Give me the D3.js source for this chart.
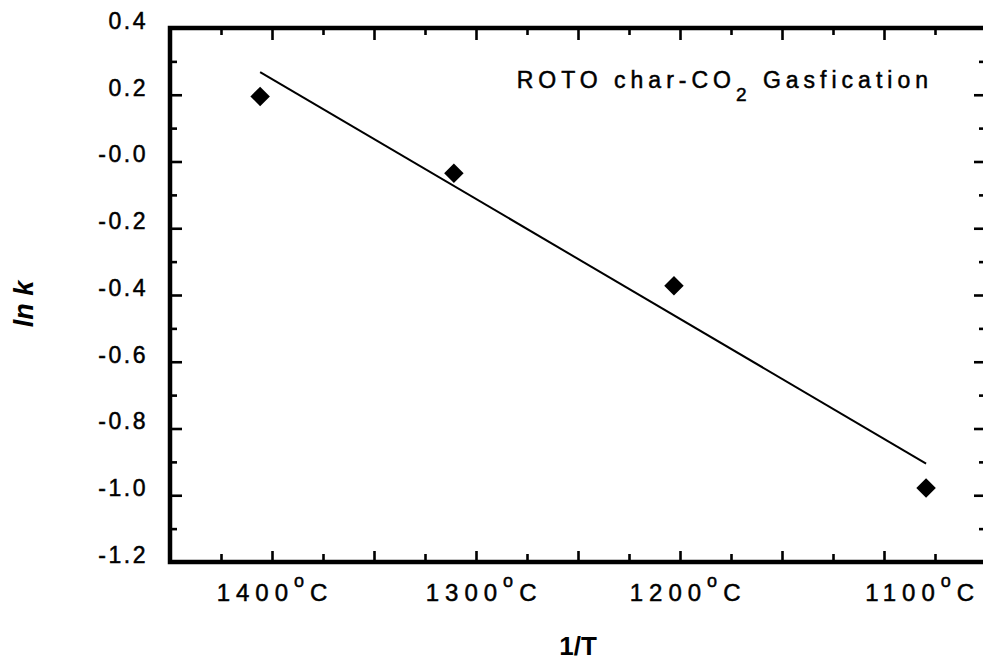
<!DOCTYPE html>
<html>
<head>
<meta charset="utf-8">
<script src="https://cdn.jsdelivr.net/npm/d3@7"></script>
<style>
  body { margin: 0; background: #fff; }
  svg { display: block; }
  text { font-family: "Liberation Sans", Arial, Helvetica, sans-serif; fill: #000; }
  .heavy { stroke: #000; stroke-width: 0.5px; }
</style>
</head>
<body>
<svg width="983" height="662"></svg>
<script>
// measured points
var tempC = [1400, 1300, 1200, 1100];
var lnK = [0.195, -0.035, -0.372, -0.978];

// fitted line (ends)
var fitTempC = [1400, 1100];
var fitLnK = [0.268, -0.905];

var yMajor = [0.4, 0.2, 0, -0.2, -0.4, -0.6, -0.8, -1.0, -1.2];
var yLabels = ["0.4", "0.2", "-0.0", "-0.2", "-0.4", "-0.6", "-0.8", "-1.0", "-1.2"];
var yMinor = [0.3, 0.1, -0.1, -0.3, -0.5, -0.7, -0.9, -1.1];

var xMajor = [0.00060, 0.00062, 0.00064, 0.00066, 0.00068, 0.00070, 0.00072];
var xMinor = [0.00059, 0.00061, 0.00063, 0.00065, 0.00067, 0.00069, 0.00071, 0.00073];

// where the temperature labels sit on the 1/T axis
var xLabelAt = [0.000600, 0.000641, 0.000681, 0.000727];
var xLabels = ["1400", "1300", "1200", "1100"];

document.addEventListener("DOMContentLoaded", function () {

  init();

  function init() {
    var left = 170, right = 986, top = 28, bottom = 562;

    var invT = function (c) {
      return 1 / (c + 273.15);
    };

    var x = d3.scaleLinear().domain([0.00058, 0.00074]).range([left, right]);
    var y = d3.scaleLinear().domain([-1.2, 0.4]).range([bottom, top]);

    var svg = d3.select("svg");

    function styleTicks(g) {
      g.select(".domain").remove();
      g.selectAll(".tick line").attr("stroke", "#000").attr("stroke-width", 2.6);
    }

    // left axis
    svg.append("g")
      .attr("transform", "translate(" + left + ",0)")
      .call(d3.axisLeft(y).tickValues(yMajor).tickSizeInner(-12).tickSizeOuter(0)
        .tickPadding(22).tickFormat(function (d, i) { return yLabels[i]; }))
      .call(styleTicks)
      .selectAll("text")
      .attr("class", "heavy")
      .attr("dy", "0.02em")
      .style("font-size", "23px")
      .style("letter-spacing", "2.5px");

    svg.append("g")
      .attr("transform", "translate(" + left + ",0)")
      .call(d3.axisLeft(y).tickValues(yMinor).tickSizeInner(-7).tickSizeOuter(0).tickFormat(""))
      .call(styleTicks);

    // right axis
    svg.append("g")
      .attr("transform", "translate(" + right + ",0)")
      .call(d3.axisRight(y).tickValues(yMajor).tickSizeInner(-12).tickSizeOuter(0).tickFormat(""))
      .call(styleTicks);

    svg.append("g")
      .attr("transform", "translate(" + right + ",0)")
      .call(d3.axisRight(y).tickValues(yMinor).tickSizeInner(-7).tickSizeOuter(0).tickFormat(""))
      .call(styleTicks);

    // bottom / top ticks
    svg.append("g")
      .attr("transform", "translate(0," + bottom + ")")
      .call(d3.axisBottom(x).tickValues(xMajor).tickSizeInner(-11).tickSizeOuter(0).tickFormat(""))
      .call(styleTicks);

    svg.append("g")
      .attr("transform", "translate(0," + bottom + ")")
      .call(d3.axisBottom(x).tickValues(xMinor).tickSizeInner(-8).tickSizeOuter(0).tickFormat(""))
      .call(styleTicks);

    svg.append("g")
      .attr("transform", "translate(0," + top + ")")
      .call(d3.axisTop(x).tickValues(xMajor).tickSizeInner(-12).tickSizeOuter(0).tickFormat(""))
      .call(styleTicks);

    svg.append("g")
      .attr("transform", "translate(0," + top + ")")
      .call(d3.axisTop(x).tickValues(xMinor).tickSizeInner(-7).tickSizeOuter(0).tickFormat(""))
      .call(styleTicks);

    // frame
    svg.append("rect")
      .attr("x", left)
      .attr("y", top)
      .attr("width", right - left)
      .attr("height", bottom - top)
      .attr("fill", "none")
      .attr("stroke", "#000")
      .attr("stroke-width", 4.5);

    // temperature labels under the axis
    var tl = svg.append("g")
      .selectAll("text")
      .data(xLabelAt)
      .enter()
      .append("text")
      .attr("class", "heavy")
      .attr("x", function (d) { return x(d) + 3; })
      .attr("y", 601)
      .attr("text-anchor", "middle")
      .style("font-size", "24px")
      .style("letter-spacing", "6px");
    tl.append("tspan").text(function (d, i) { return xLabels[i]; });
    tl.append("tspan").attr("dy", -14).style("font-size", "18px").text("o");
    tl.append("tspan").attr("dy", 14).text("C");

    // fit line
    var line = d3.line()
      .x(function (d) { return x(invT(d[0])); })
      .y(function (d) { return y(d[1]); });

    svg.append("path")
      .datum(d3.zip(fitTempC, fitLnK))
      .attr("d", line)
      .attr("fill", "none")
      .attr("stroke", "#000")
      .attr("stroke-width", 2);

    // points
    svg.append("g")
      .selectAll("path")
      .data(d3.zip(tempC, lnK))
      .enter()
      .append("path")
      .attr("d", d3.symbol().type(d3.symbolSquare).size(190))
      .attr("transform", function (d) {
        return "translate(" + x(invT(d[0])) + "," + y(d[1]) + ") rotate(45)";
      })
      .attr("fill", "#000");

    // annotation
    var title = svg.append("text")
      .attr("class", "heavy")
      .attr("x", 933)
      .attr("y", 88)
      .attr("text-anchor", "end")
      .style("font-size", "23px")
      .style("letter-spacing", "5px");
    title.append("tspan").text("ROTO  char-CO");
    title.append("tspan").attr("dy", 13).style("font-size", "19px").text("2");
    title.append("tspan").attr("dy", -13).text(" Gasfication");

    // axis titles
    svg.append("text")
      .attr("x", 578)
      .attr("y", 655)
      .attr("text-anchor", "middle")
      .style("font-size", "26px")
      .style("font-weight", "bold")
      .text("1/T");

    svg.append("text")
      .attr("transform", "translate(33,304) rotate(-90)")
      .attr("text-anchor", "middle")
      .style("font-size", "27px")
      .style("font-weight", "bold")
      .style("font-style", "italic")
      .text("ln k");
  }

});
</script>
</body>
</html>
